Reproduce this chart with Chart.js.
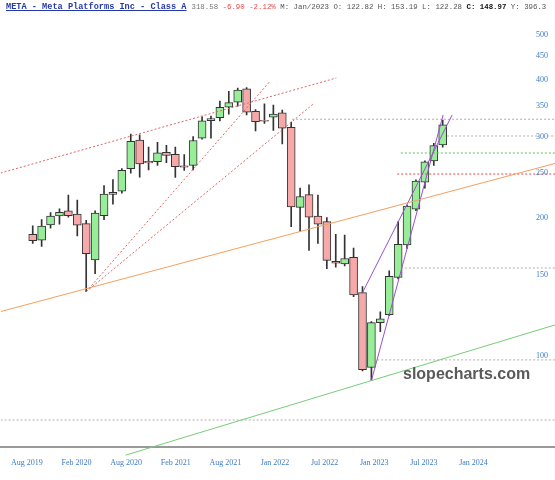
<!DOCTYPE html>
<html>
<head>
<meta charset="utf-8">
<style>
  html, body { margin: 0; padding: 0; background: #ffffff; }
</style>
</head>
<body>
<canvas id="chart" width="555" height="480"></canvas>
<script src="https://cdn.jsdelivr.net/npm/chart.js@4.4.1/dist/chart.umd.min.js"></script>
<script>
/* ======================================================
   Datos: velas mensuales META (Sep 2019 - Jul 2023)
====================================================== */
const months = [
  'Sep 2019', 'Oct 2019', 'Nov 2019', 'Dec 2019',
  'Jan 2020', 'Feb 2020', 'Mar 2020', 'Apr 2020', 'May 2020', 'Jun 2020',
  'Jul 2020', 'Aug 2020', 'Sep 2020', 'Oct 2020', 'Nov 2020', 'Dec 2020',
  'Jan 2021', 'Feb 2021', 'Mar 2021', 'Apr 2021', 'May 2021', 'Jun 2021',
  'Jul 2021', 'Aug 2021', 'Sep 2021', 'Oct 2021', 'Nov 2021', 'Dec 2021',
  'Jan 2022', 'Feb 2022', 'Mar 2022', 'Apr 2022', 'May 2022', 'Jun 2022',
  'Jul 2022', 'Aug 2022', 'Sep 2022', 'Oct 2022', 'Nov 2022', 'Dec 2022',
  'Jan 2023', 'Feb 2023', 'Mar 2023', 'Apr 2023', 'May 2023', 'Jun 2023',
  'Jul 2023'
];
const opens = [
  184.0, 178.5, 192.9, 201.8,
  206.8, 203.5, 194.0, 161.8, 202.0, 224.6,
  228.5, 255.8, 295.0, 265.4, 265.0, 277.7,
  274.8, 259.5, 260.0, 298.0, 325.5, 330.2,
  348.0, 357.0, 382.0, 341.0, 326.0, 331.0,
  338.3, 314.5, 210.6, 224.5, 201.6, 196.0,
  160.6, 158.5, 163.8, 137.2, 94.3, 118.1,
  122.8, 148.2, 174.3, 208.7, 239.0, 265.8,
  288.0
];
const highs = [
  192.0, 198.1, 205.0, 209.0,
  223.9, 218.4, 197.2, 207.0, 235.0, 242.0,
  255.9, 304.0, 303.0, 285.0, 292.0, 287.4,
  285.1, 274.3, 300.5, 331.8, 333.0, 358.8,
  377.0, 383.0, 384.3, 344.0, 354.0, 352.0,
  343.1, 323.2, 232.0, 235.7, 224.0, 200.0,
  183.9, 183.3, 171.6, 141.4, 118.7, 124.7,
  153.2, 196.0, 213.0, 241.7, 265.9, 290.3,
  326.2
];
const lows = [
  175.7, 173.1, 189.6, 193.5,
  200.5, 182.4, 137.9, 151.0, 198.0, 214.0,
  226.0, 250.0, 245.0, 254.0, 260.0, 263.6,
  244.6, 253.5, 254.0, 296.6, 298.0, 325.0,
  336.0, 350.0, 334.9, 309.0, 321.0, 310.0,
  289.4, 191.0, 186.5, 169.7, 175.7, 154.8,
  156.0, 157.0, 134.4, 92.6, 88.2, 112.8,
  122.3, 147.1, 171.4, 207.1, 232.0, 260.0,
  284.9
];
const closes = [
  178.1, 191.7, 201.6, 205.3,
  201.9, 192.5, 166.8, 204.7, 225.1, 227.1,
  253.7, 293.2, 261.9, 263.1, 277.0, 273.2,
  258.3, 257.6, 294.5, 325.1, 328.7, 347.7,
  356.3, 379.4, 339.4, 323.6, 324.5, 336.4,
  313.3, 211.0, 222.4, 200.5, 193.6, 161.3,
  159.1, 162.9, 135.7, 93.2, 118.1, 120.3,
  149.0, 174.9, 211.9, 240.3, 264.7, 287.0,
  318.6
];

/* Etiquetas de ejes */
const xTickLabels = [
  'Aug 2019', 'Feb 2020', 'Aug 2020', 'Feb 2021', 'Aug 2021',
  'Jan 2022', 'Jul 2022', 'Jan 2023', 'Jul 2023', 'Jan 2024'
];
const yTickValues = [100, 150, 200, 250, 300, 350, 400, 450, 500];

/* Líneas de tendencia: [índice de vela, precio] */
const upperChannel = [[-3.6, 250.2], [34.06, 403.1]];
const fanSteep = [[6, 137.9], [26.55, 395.0]];
const fanShallow = [[6, 137.9], [31.48, 353.8]];
const longSupport = [[-3.6, 124.8], [58.6, 262.5]];
const lowerSupport = [[10.42, 60.7], [58.6, 116.7]];
const rallyFromOpen = [[37, 137.2], [47.06, 334.9]];
const rallyFromLow = [[38, 88.2], [46.05, 334.9]];

/* Niveles horizontales: [índice inicial, precio] */
const grayLevels = [[29.1, 327.7], [46.5, 301.3], [41.3, 155.3], [38.2, 97.9], [-3.6, 72.4]];
const greenLevel = [41.3, 276.6];
const redLevel = [40.9, 248.9];

/* ======================================================
   Configuración visual
====================================================== */
const X_MIN = -3.585;
const X_MAX = 58.6;
const UP_FILL = '#98ee98';
const DOWN_FILL = '#f7a9a9';
const EDGE = '#333333';
const AXIS_BLUE = '#3d7cc4';
const AXIS_FONT = { family: "'Liberation Serif', serif", size: 8 };

function segment(points) {
  return points.map(([x, y]) => ({ x, y }));
}

function levelSegment([start, price]) {
  return [{ x: start, y: price }, { x: X_MAX, y: price }];
}

function lineDataset(data, color, dash = [], extra = {}) {
  return {
    type: 'line',
    data,
    borderColor: color,
    borderWidth: 1,
    borderDash: dash,
    pointRadius: 0,
    fill: false,
    tension: 0,
    order: 0,
    ...extra
  };
}

/* ======================================================
   Plugin: cabecera y marca de agua
====================================================== */
const headerPlugin = {
  id: 'header',
  afterDraw(chart) {
    const { ctx } = chart;
    ctx.save();
    ctx.textBaseline = 'alphabetic';

    let x = 6;
    const y = 9;
    ctx.font = "bold 8.6px 'Liberation Mono', monospace";
    ctx.fillStyle = '#2639a8';
    const title = 'META - Meta Platforms Inc - Class A';
    ctx.fillText(title, x, y);
    const tw = ctx.measureText(title).width;
    ctx.fillRect(x, y + 1, tw, 1);
    x += tw + 5;

    const parts = [
      { text: '318.58 ', color: '#777777', bold: false },
      { text: '-6.90 -2.12% ', color: '#e04848', bold: false },
      { text: 'M: Jan/2023 O: 122.82 H: 153.19 L: 122.28 ', color: '#555555', bold: false },
      { text: 'C: 148.97', color: '#111111', bold: true },
      { text: ' Y: 396.3', color: '#555555', bold: false }
    ];
    parts.forEach(p => {
      ctx.font = (p.bold ? 'bold ' : '') + "7.4px 'Liberation Mono', monospace";
      ctx.fillStyle = p.color;
      ctx.fillText(p.text, x, y);
      x += ctx.measureText(p.text).width;
    });

    ctx.font = "bold 16px 'Liberation Sans', sans-serif";
    ctx.fillStyle = '#5a5a5a';
    ctx.fillText('slopecharts.com', 403, 379);
    ctx.restore();
  }
};

/* ======================================================
   Gráfica
====================================================== */
const bodies = months.map((m, i) => ({ x: i, y: [opens[i], closes[i]] }));
const wicks = months.map((m, i) => ({ x: i, y: [lows[i], highs[i]] }));
const bodyColors = months.map((m, i) => (closes[i] >= opens[i] ? UP_FILL : DOWN_FILL));

new Chart(document.getElementById('chart'), {
  type: 'bar',
  data: {
    datasets: [
      {
        label: 'wick',
        data: wicks,
        backgroundColor: EDGE,
        borderWidth: 0,
        barThickness: 1,
        grouped: false,
        order: 3
      },
      {
        label: 'body',
        data: bodies,
        backgroundColor: bodyColors,
        borderColor: EDGE,
        borderWidth: 1,
        borderSkipped: false,
        barThickness: 8,
        grouped: false,
        order: 2
      },
      lineDataset(segment(upperChannel), '#e06464', [2, 2]),
      lineDataset(segment(fanSteep), '#e06464', [2, 2]),
      lineDataset(segment(fanShallow), '#e06464', [2, 2]),
      lineDataset(segment(longSupport), '#f2a060'),
      lineDataset(segment(lowerSupport), '#77cc77', [], { clip: { left: 0, top: 0, right: 0, bottom: 12 } }),
      lineDataset(segment(rallyFromOpen), '#9a4fd0'),
      lineDataset(segment(rallyFromLow), '#9a4fd0'),
      ...grayLevels.map(l => lineDataset(levelSegment(l), '#b0b0b0', [2, 2])),
      lineDataset(levelSegment(greenLevel), '#5cbf5c', [2, 2]),
      lineDataset(levelSegment(redLevel), '#e04848', [2, 2])
    ]
  },
  options: {
    responsive: false,
    animation: false,
    events: [],
    layout: { padding: 0, autoPadding: false },
    plugins: {
      legend: { display: false },
      tooltip: { enabled: false }
    },
    scales: {
      x: {
        type: 'linear',
        min: X_MIN,
        max: X_MAX,
        bounds: 'data',
        offset: false,
        grid: { offset: false },
        display: false
      },
      xl: {
        type: 'linear',
        position: 'bottom',
        min: -0.527,
        max: 10.642,
        bounds: 'data',
        offset: false,
        afterBuildTicks(scale) {
          scale.ticks = xTickLabels.map((t, k) => ({ value: k }));
        },
        afterFit(scale) {
          scale.height = 33;
        },
        ticks: {
          autoSkip: false,
          maxRotation: 0,
          padding: 11,
          color: AXIS_BLUE,
          font: AXIS_FONT,
          callback: (v, idx) => xTickLabels[idx]
        },
        grid: { display: false, drawTicks: false, offset: false },
        border: { display: true, color: '#999999', width: 2 }
      },
      y: {
        type: 'logarithmic',
        position: 'right',
        min: 63.23,
        max: 596.3,
        bounds: 'data',
        afterBuildTicks(scale) {
          scale.ticks = yTickValues.map(v => ({ value: v }));
        },
        afterFit(scale) {
          scale.width = 0;
        },
        ticks: {
          mirror: true,
          padding: -7,
          color: AXIS_BLUE,
          font: AXIS_FONT,
          callback: v => String(v)
        },
        grid: { display: false, drawTicks: false },
        border: { display: false }
      }
    }
  },
  plugins: [headerPlugin]
});
</script>
</body>
</html>
